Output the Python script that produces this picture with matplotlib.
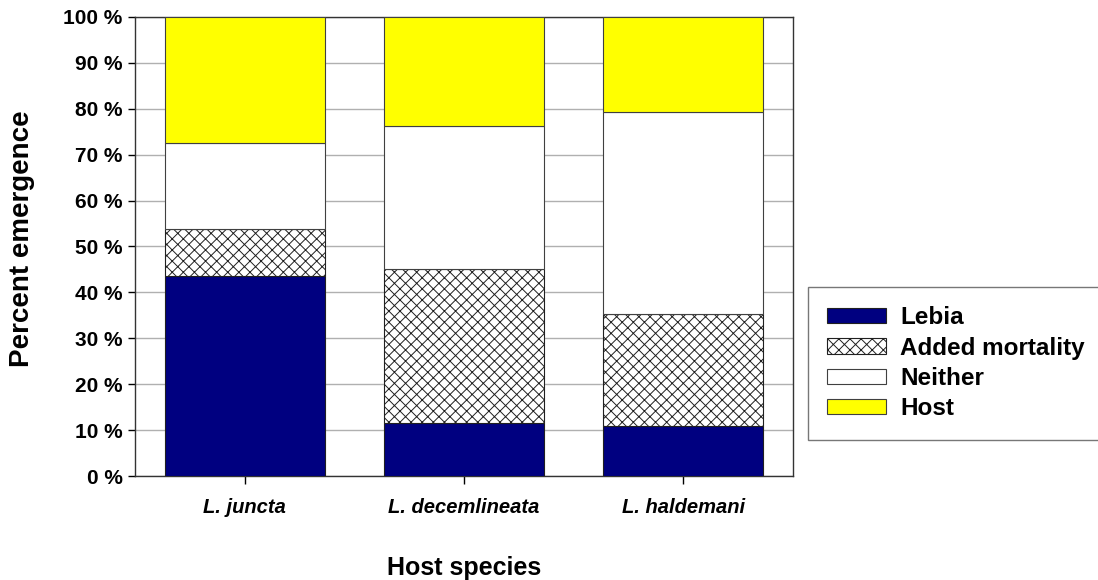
import matplotlib
matplotlib.use("Agg")
import matplotlib.pyplot as plt
from matplotlib.ticker import MultipleLocator, FuncFormatter

plt.rcParams["font.family"] = ["Liberation Sans", "DejaVu Sans"]
plt.rcParams["hatch.linewidth"] = 0.7

hosts = ["L. juncta", "L. decemlineata", "L. haldemani"]
lebia = [43.6, 11.5, 10.9]
added = [10.2, 33.6, 24.4]
neither = [18.7, 31.2, 44.0]
host = [27.5, 23.7, 20.7]

fig = plt.figure(figsize=(10.98, 5.8), dpi=100)
ax = fig.add_axes([0.123, 0.179, 0.599, 0.792])

x = [i + 0.5 for i in range(len(hosts))]
w = 0.73
bottom = [0.0] * len(hosts)
series = [
    ("Lebia", lebia, dict(color="#000080", edgecolor="#202020")),
    ("Added mortality", added, dict(color="white", edgecolor="#202020", hatch="xxx")),
    ("Neither", neither, dict(color="white", edgecolor="#404040")),
    ("Host", host, dict(color="#ffff00", edgecolor="#404040")),
]
for label, vals, style in series:
    ax.bar(x, vals, w, bottom=bottom, label=label, linewidth=0.8, zorder=3, **style)
    bottom = [b + v for b, v in zip(bottom, vals)]

ax.set_xlim(0, 3)
ax.set_ylim(0, 100)
ax.yaxis.set_major_locator(MultipleLocator(10))
ax.yaxis.set_major_formatter(FuncFormatter(lambda v, p: f"{v:.0f} %"))
ax.yaxis.grid(True, color="#b0b0b0", lw=1.0, zorder=0)
ax.set_axisbelow(True)
ax.set_xticks(x)
ax.set_xticklabels(hosts, fontstyle="italic", fontweight="bold", fontsize=14.5)
for lab in ax.get_yticklabels():
    lab.set_fontweight("bold")
    lab.set_fontsize(15)
ax.tick_params(axis="y", length=5, width=1, pad=4)
ax.tick_params(axis="x", length=6, width=1, pad=10)
for s in ax.spines.values():
    s.set_color("#333333")
    s.set_linewidth(1.0)

ax.set_ylabel("Percent emergence", fontsize=20, fontweight="bold")
ax.yaxis.set_label_coords(-0.152, 0.516)
ax.set_xlabel("Host species", fontsize=18, fontweight="bold", labelpad=28)

leg = ax.legend(loc="center left", bbox_to_anchor=(1.023, 0.246), borderaxespad=0,
                frameon=True, fancybox=False, edgecolor="#555555",
                prop={"weight": "bold", "size": 17.5},
                handlelength=2.4, handleheight=0.6, labelspacing=0.3,
                borderpad=0.8, handletextpad=0.6)
leg.get_frame().set_linewidth(1.0)

fig.savefig("out.png", dpi=100)
